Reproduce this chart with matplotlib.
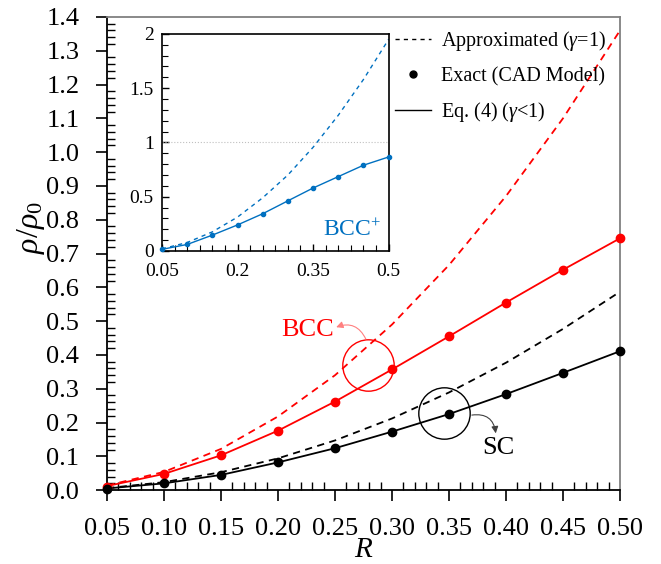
import matplotlib
matplotlib.use("Agg")
import matplotlib.pyplot as plt
from matplotlib.ticker import MultipleLocator, FormatStrFormatter, FixedLocator
from matplotlib.lines import Line2D

plt.rcParams['font.family'] = ['Liberation Serif', 'DejaVu Serif']
plt.rcParams['mathtext.fontset'] = 'custom'
plt.rcParams['mathtext.rm'] = 'Liberation Serif'
plt.rcParams['mathtext.it'] = 'Liberation Serif:italic'

# ---- data ----
R = [0.05, 0.10, 0.15, 0.20, 0.25, 0.30, 0.35, 0.40, 0.45, 0.50]
bcc_exact = [0.010, 0.048, 0.103, 0.176, 0.262, 0.357, 0.455, 0.555, 0.652, 0.745]
bcc_eq4 = [0.012, 0.048, 0.103, 0.176, 0.262, 0.357, 0.455, 0.555, 0.652, 0.745]
bcc_approx = [0.0136, 0.054, 0.122, 0.218, 0.340, 0.490, 0.666, 0.870, 1.100, 1.360]
sc_exact = [0.004, 0.020, 0.045, 0.082, 0.124, 0.173, 0.225, 0.284, 0.347, 0.411]
sc_eq4 = [0.005, 0.020, 0.045, 0.082, 0.124, 0.173, 0.225, 0.284, 0.347, 0.411]
sc_approx = [0.0059, 0.0236, 0.053, 0.094, 0.147, 0.212, 0.289, 0.377, 0.477, 0.587]
bccp_exact = [0.015, 0.060, 0.146, 0.240, 0.343, 0.462, 0.580, 0.685, 0.790, 0.866]
bccp_eq4 = [0.015, 0.060, 0.146, 0.240, 0.343, 0.462, 0.580, 0.685, 0.790, 0.866]
bccp_approx = [0.0195, 0.078, 0.176, 0.312, 0.490, 0.700, 0.955, 1.250, 1.580, 1.950]

RED = '#ff0000'
BLUE = '#0070c0'

fig = plt.figure(figsize=(6.61, 5.64), dpi=100)
ax = fig.add_axes([0.162, 0.131, 0.776, 0.839])

ax.plot(R, bcc_approx, '--', color=RED, lw=1.3, dashes=(4, 3))
ax.plot(R, bcc_eq4, '-', color=RED, lw=1.3)
ax.plot(R, bcc_exact, 'o', color=RED, ms=6, clip_on=False, zorder=5)
ax.plot(R, sc_approx, '--', color='black', lw=1.3, dashes=(4, 3))
ax.plot(R, sc_eq4, '-', color='black', lw=1.3)
ax.plot(R, sc_exact, 'o', color='black', ms=6, clip_on=False, zorder=5)

ax.set_xlim(0.05, 0.50)
ax.set_ylim(0.0, 1.4)
ax.xaxis.set_major_locator(MultipleLocator(0.05))
ax.xaxis.set_minor_locator(MultipleLocator(0.01))
ax.yaxis.set_major_locator(MultipleLocator(0.1))
ax.yaxis.set_minor_locator(MultipleLocator(0.02))
ax.xaxis.set_major_formatter(FormatStrFormatter('%.2f'))
ax.yaxis.set_major_formatter(FormatStrFormatter('%.1f'))
ax.tick_params(which='major', direction='out', length=8, width=1.2, labelsize=19, pad=12)
ax.tick_params(which='minor', direction='in', length=6, width=1.0)
ax.tick_params(top=False, right=False, which='both')
for s in ['left', 'bottom']:
    ax.spines[s].set_linewidth(1.3)
for s in ['top', 'right']:
    ax.spines[s].set_color('#808080')
    ax.spines[s].set_linewidth(1.3)

ax.set_xlabel('$R$', fontsize=21, labelpad=-2)
ax.set_ylabel(r'$\rho/\rho_0$', fontsize=23)
ax.yaxis.set_label_coords(-0.118, 0.555)

# legend
handles = [Line2D([], [], color='black', ls='--', lw=1.0, dashes=(3, 3)),
           Line2D([], [], color='black', marker='o', ls='none', ms=5),
           Line2D([], [], color='black', ls='-', lw=1.0)]
labels = [r'Approximated ($\gamma$=1)', 'Exact (CAD Model)', r'Eq. (4) ($\gamma$<1)']
ax.legend(handles, labels, loc='upper right', frameon=False, fontsize=14.5,
          handlelength=1.8, handletextpad=0.5, labelspacing=0.7,
          bbox_to_anchor=(1.0, 1.005), borderaxespad=0.3)

# annotations
ax.plot([0.279], [0.370], 'o', ms=37, mfc='none', mec=RED, mew=1.0)
ax.text(0.226, 0.475, 'BCC', color=RED, fontsize=19, ha='center', va='center')
ax.annotate('', xy=(0.251, 0.482), xytext=(0.277, 0.447),
            arrowprops=dict(arrowstyle='-|>', color='#ff8080', lw=0.8,
                            mutation_scale=10, connectionstyle='arc3,rad=0.45',
                            shrinkA=0, shrinkB=0))
ax.plot([0.346], [0.228], 'o', ms=37, mfc='none', mec='black', mew=1.0)
ax.text(0.393, 0.124, 'SC', color='black', fontsize=19, ha='center', va='center')
ax.annotate('', xy=(0.391, 0.168), xytext=(0.370, 0.222),
            arrowprops=dict(arrowstyle='-|>', color='#404040', lw=0.8,
                            mutation_scale=10, connectionstyle='arc3,rad=-0.5',
                            shrinkA=0, shrinkB=0))

# inset
ins = fig.add_axes([0.245, 0.555, 0.343, 0.385])
ins.axhline(1.0, color='#c0c0c0', lw=0.8, ls=':')
ins.plot(R, bccp_approx, '--', color=BLUE, lw=1.0, dashes=(3, 3))
ins.plot(R, bccp_eq4, '-', color=BLUE, lw=1.0)
ins.plot(R, bccp_exact, 'o', color=BLUE, ms=3, clip_on=False, zorder=5)
ins.set_xlim(0.05, 0.50)
ins.set_ylim(0, 2)
ins.xaxis.set_major_locator(FixedLocator([0.05, 0.2, 0.35, 0.5]))
ins.xaxis.set_minor_locator(MultipleLocator(0.025))
ins.yaxis.set_major_locator(FixedLocator([0, 0.5, 1, 1.5, 2]))
ins.yaxis.set_minor_locator(MultipleLocator(0.1))
ins.set_xticklabels(['0.05', '0.2', '0.35', '0.5'])
ins.set_yticklabels(['0', '0.5', '1', '1.5', '2'])
ins.tick_params(which='both', direction='in', labelsize=14)
ins.tick_params(which='major', length=5, width=1.0)
ins.tick_params(axis='x', which='major', pad=9)
ins.tick_params(axis='y', which='major', pad=6)
ins.tick_params(which='minor', length=4, width=0.8)
for s in ins.spines.values():
    s.set_linewidth(1.2)
ins.text(0.485, 0.09, 'BCC$^{+}$', color=BLUE, fontsize=17, ha='right', va='bottom')

fig.savefig('out.png', dpi=100)
